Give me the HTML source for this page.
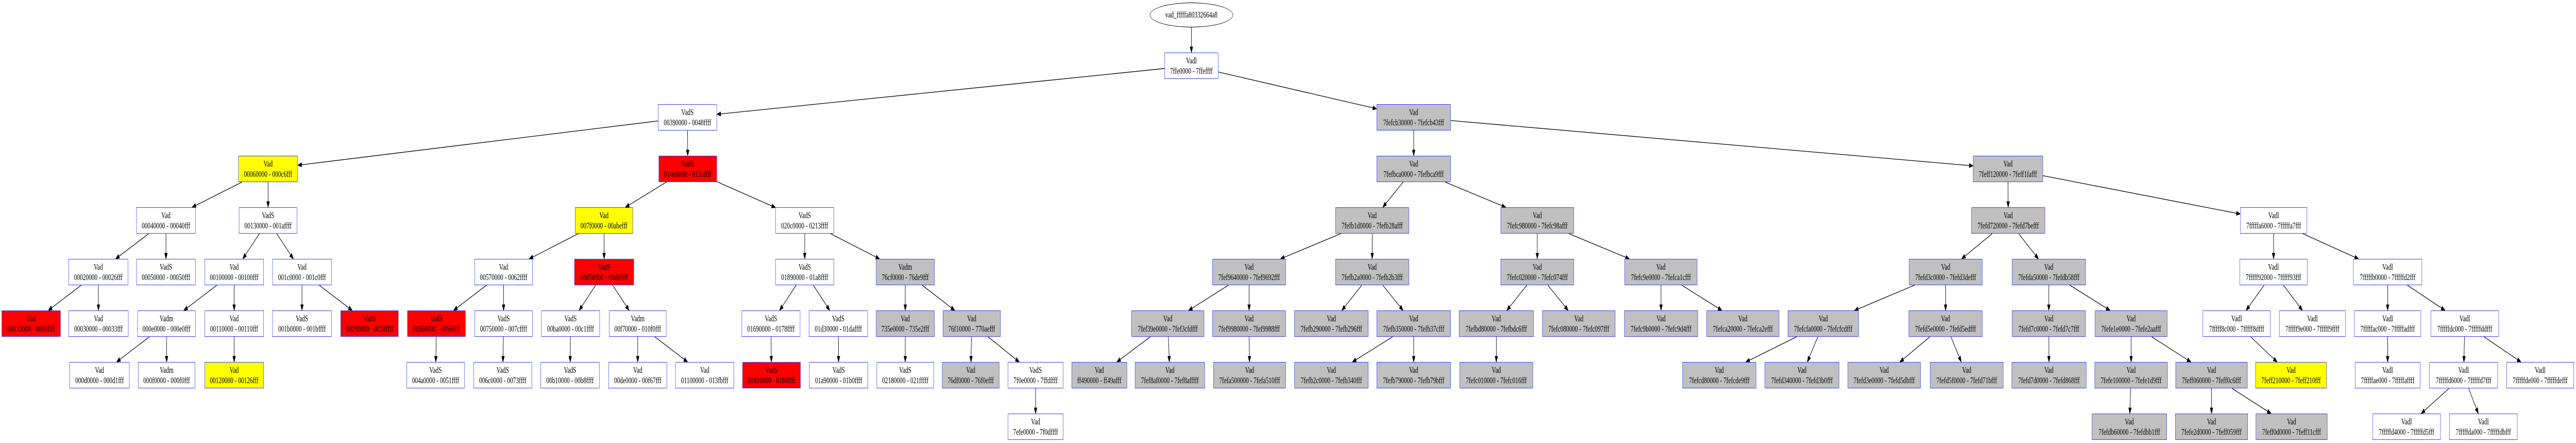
<!DOCTYPE html>
<html><head><meta charset="utf-8">
<style>
html,body{margin:0;padding:0;background:#fff;width:100vw;height:100vh;overflow:hidden;}
#wrap{position:absolute;left:0;top:0;width:7481px;height:859px;transform-origin:0 0;font-family:"Liberation Serif",serif;background:#fff;}
.n{position:absolute;height:51px;box-sizing:border-box;border:1.5px solid #3a3aff;text-align:center;font-size:17px;line-height:20px;padding-top:5px;color:#000;white-space:nowrap;z-index:2;overflow:hidden;}
.w{background:#fff}.g{background:#c0c0c0}.r{background:#ff0000}.y{background:#ffff00}
.e{position:absolute;left:3339px;top:5px;width:242px;height:48px;border:1.3px solid #000;border-radius:50%;box-sizing:border-box;text-align:center;font-size:17px;line-height:46px;z-index:2;background:#fff;overflow:hidden}
svg{position:absolute;left:0;top:0;z-index:1}
</style></head><body>
<div id="wrap">
<svg id="s" width="7481" height="859"></svg>
<div class="e" id="n0">vad_fffffa80332664a8</div>
<div class="n w" id="n1" style="left:3382px;top:102px;width:156px">Vadl<br>7ffe0000 - 7ffeffff</div>
<div class="n w" id="n2" style="left:1911px;top:202px;width:171px">VadS<br>00390000 - 0048ffff</div>
<div class="n g" id="n3" style="left:3998px;top:202px;width:215px">Vad<br>7fefcb30000 - 7fefcb43fff</div>
<div class="n y" id="n4" style="left:692px;top:302px;width:173px">Vad<br>00060000 - 000c6fff</div>
<div class="n r" id="n5" style="left:1913px;top:302px;width:169px">VadS<br>014e0000 - 0155ffff</div>
<div class="n g" id="n6" style="left:3998px;top:302px;width:215px">Vad<br>7fefbca0000 - 7fefbca9fff</div>
<div class="n g" id="n7" style="left:5730px;top:302px;width:203px">Vad<br>7feff120000 - 7feff1fafff</div>
<div class="n w" id="n8" style="left:396px;top:402px;width:172px">Vad<br>00040000 - 00040fff</div>
<div class="n w" id="n9" style="left:694px;top:402px;width:169px">VadS<br>00130000 - 001affff</div>
<div class="n y" id="n10" style="left:1670px;top:402px;width:168px">Vad<br>007f0000 - 00abefff</div>
<div class="n w" id="n11" style="left:2252px;top:402px;width:170px">VadS<br>020c0000 - 0213ffff</div>
<div class="n g" id="n12" style="left:3878px;top:402px;width:214px">Vad<br>7fefb1d0000 - 7fefb28afff</div>
<div class="n g" id="n13" style="left:4358px;top:402px;width:213px">Vad<br>7fefc980000 - 7fefc98afff</div>
<div class="n g" id="n14" style="left:5725px;top:402px;width:214px">Vad<br>7fefd720000 - 7fefd7befff</div>
<div class="n w" id="n15" style="left:6506px;top:402px;width:194px">Vadl<br>7fffffa6000 - 7fffffa7fff</div>
<div class="n w" id="n16" style="left:199px;top:502px;width:173px">Vad<br>00020000 - 00026fff</div>
<div class="n w" id="n17" style="left:396px;top:502px;width:172px">VadS<br>00050000 - 00050fff</div>
<div class="n w" id="n18" style="left:594px;top:502px;width:172px">Vad<br>00100000 - 00100fff</div>
<div class="n w" id="n19" style="left:791px;top:502px;width:172px">Vad<br>001c0000 - 001c0fff</div>
<div class="n w" id="n20" style="left:1378px;top:502px;width:169px">Vad<br>00570000 - 0062ffff</div>
<div class="n r" id="n21" style="left:1668px;top:502px;width:173px">VadS<br>00d50000 - 00ddffff</div>
<div class="n w" id="n22" style="left:2252px;top:502px;width:170px">VadS<br>01890000 - 01a8ffff</div>
<div class="n g" id="n23" style="left:2544px;top:502px;width:170px">Vadm<br>76cf0000 - 76de9fff</div>
<div class="n g" id="n24" style="left:3521px;top:502px;width:213px">Vad<br>7fef9640000 - 7fef9692fff</div>
<div class="n g" id="n25" style="left:3878px;top:502px;width:214px">Vad<br>7fefb2a0000 - 7fefb2b3fff</div>
<div class="n g" id="n26" style="left:4358px;top:502px;width:213px">Vad<br>7fefc020000 - 7fefc074fff</div>
<div class="n g" id="n27" style="left:4718px;top:502px;width:211px">Vad<br>7fefc9e0000 - 7fefca1cfff</div>
<div class="n g" id="n28" style="left:5544px;top:502px;width:213px">Vad<br>7fefd3c0000 - 7fefd3defff</div>
<div class="n g" id="n29" style="left:5843px;top:502px;width:214px">Vad<br>7fefda50000 - 7fefdb58fff</div>
<div class="n w" id="n30" style="left:6504px;top:502px;width:197px">Vadl<br>7fffff92000 - 7fffff93fff</div>
<div class="n w" id="n31" style="left:6834px;top:502px;width:200px">Vadl<br>7fffffb0000 - 7fffffd2fff</div>
<div class="n r" id="n32" style="left:5px;top:602px;width:171px">Vad<br>00010000 - 0001ffff</div>
<div class="n w" id="n33" style="left:199px;top:602px;width:174px">Vad<br>00030000 - 00033fff</div>
<div class="n w" id="n34" style="left:399px;top:602px;width:169px">Vadm<br>000e0000 - 000e0fff</div>
<div class="n w" id="n35" style="left:594px;top:602px;width:172px">Vad<br>00110000 - 00110fff</div>
<div class="n w" id="n36" style="left:791px;top:602px;width:172px">VadS<br>001b0000 - 001bffff</div>
<div class="n r" id="n37" style="left:989px;top:602px;width:168px">VadS<br>00290000 - 0038ffff</div>
<div class="n r" id="n38" style="left:1183px;top:602px;width:169px">VadS<br>00560000 - 0056ffff</div>
<div class="n w" id="n39" style="left:1378px;top:602px;width:169px">VadS<br>00750000 - 007cffff</div>
<div class="n w" id="n40" style="left:1572px;top:602px;width:170px">VadS<br>00ba0000 - 00c1ffff</div>
<div class="n w" id="n41" style="left:1769px;top:602px;width:166px">Vadm<br>00f70000 - 010f0fff</div>
<div class="n w" id="n42" style="left:2154px;top:602px;width:170px">VadS<br>01690000 - 0178ffff</div>
<div class="n w" id="n43" style="left:2349px;top:602px;width:171px">VadS<br>01d30000 - 01daffff</div>
<div class="n g" id="n44" style="left:2544px;top:602px;width:170px">Vad<br>735e0000 - 735e2fff</div>
<div class="n g" id="n45" style="left:2738px;top:602px;width:168px">Vad<br>76f10000 - 770aefff</div>
<div class="n g" id="n46" style="left:3286px;top:602px;width:211px">Vad<br>7fef39e0000 - 7fef3cfdfff</div>
<div class="n g" id="n47" style="left:3521px;top:602px;width:213px">Vad<br>7fef9980000 - 7fef9988fff</div>
<div class="n g" id="n48" style="left:3759px;top:602px;width:215px">Vad<br>7fefb290000 - 7fefb296fff</div>
<div class="n g" id="n49" style="left:3998px;top:602px;width:215px">Vad<br>7fefb350000 - 7fefb37cfff</div>
<div class="n g" id="n50" style="left:4237px;top:602px;width:217px">Vad<br>7fefbd80000 - 7fefbdc6fff</div>
<div class="n g" id="n51" style="left:4479px;top:602px;width:212px">Vad<br>7fefc080000 - 7fefc097fff</div>
<div class="n g" id="n52" style="left:4717px;top:602px;width:214px">Vad<br>7fefc9b0000 - 7fefc9d4fff</div>
<div class="n g" id="n53" style="left:4956px;top:602px;width:211px">Vad<br>7fefca20000 - 7fefca2efff</div>
<div class="n g" id="n54" style="left:5192px;top:602px;width:206px">Vad<br>7fefcfa0000 - 7fefcfcdfff</div>
<div class="n g" id="n55" style="left:5543px;top:602px;width:214px">Vad<br>7fefd5e0000 - 7fefd5edfff</div>
<div class="n g" id="n56" style="left:5843px;top:602px;width:214px">Vad<br>7fefd7c0000 - 7fefd7c7fff</div>
<div class="n g" id="n57" style="left:6084px;top:602px;width:210px">Vad<br>7fefe1e0000 - 7fefe2aafff</div>
<div class="n w" id="n58" style="left:6397px;top:602px;width:197px">Vadl<br>7fffff8c000 - 7fffff8dfff</div>
<div class="n w" id="n59" style="left:6619px;top:602px;width:193px">Vadl<br>7fffff9e000 - 7fffff9ffff</div>
<div class="n w" id="n60" style="left:6837px;top:602px;width:194px">Vadl<br>7fffffac000 - 7fffffadfff</div>
<div class="n w" id="n61" style="left:7059px;top:602px;width:198px">Vadl<br>7fffffdc000 - 7fffffddfff</div>
<div class="n w" id="n62" style="left:202px;top:702px;width:174px">Vad<br>000d0000 - 000d1fff</div>
<div class="n w" id="n63" style="left:401px;top:702px;width:166px">Vadm<br>000f0000 - 000f0fff</div>
<div class="n y" id="n64" style="left:594px;top:702px;width:172px">Vad<br>00120000 - 00126fff</div>
<div class="n w" id="n65" style="left:1181px;top:702px;width:168px">VadS<br>004a0000 - 0051ffff</div>
<div class="n w" id="n66" style="left:1375px;top:702px;width:170px">VadS<br>006c0000 - 0073ffff</div>
<div class="n w" id="n67" style="left:1570px;top:702px;width:171px">VadS<br>00b10000 - 00b8ffff</div>
<div class="n w" id="n68" style="left:1767px;top:702px;width:170px">Vad<br>00de0000 - 00f67fff</div>
<div class="n w" id="n69" style="left:1961px;top:702px;width:171px">Vad<br>01100000 - 013fbfff</div>
<div class="n r" id="n70" style="left:2156px;top:702px;width:169px">VadS<br>01810000 - 0188ffff</div>
<div class="n w" id="n71" style="left:2350px;top:702px;width:171px">VadS<br>01a90000 - 01b0ffff</div>
<div class="n w" id="n72" style="left:2546px;top:702px;width:166px">VadS<br>02180000 - 021fffff</div>
<div class="n g" id="n73" style="left:2736px;top:702px;width:166px">Vad<br>76df0000 - 76f0efff</div>
<div class="n w" id="n74" style="left:2927px;top:702px;width:161px">VadS<br>7f0e0000 - 7ffdffff</div>
<div class="n g" id="n75" style="left:3112px;top:702px;width:161px">Vad<br>ff490000 - ff49afff</div>
<div class="n g" id="n76" style="left:3296px;top:702px;width:203px">Vad<br>7fef8af0000 - 7fef8afffff</div>
<div class="n g" id="n77" style="left:3524px;top:702px;width:210px">Vad<br>7fefa500000 - 7fefa510fff</div>
<div class="n g" id="n78" style="left:3759px;top:702px;width:215px">Vad<br>7fefb2c0000 - 7fefb340fff</div>
<div class="n g" id="n79" style="left:3998px;top:702px;width:215px">Vad<br>7fefb790000 - 7fefb79bfff</div>
<div class="n g" id="n80" style="left:4239px;top:702px;width:213px">Vad<br>7fefc010000 - 7fefc016fff</div>
<div class="n g" id="n81" style="left:4886px;top:702px;width:214px">Vad<br>7fefcd80000 - 7fefcde9fff</div>
<div class="n g" id="n82" style="left:5125px;top:702px;width:216px">Vad<br>7fefd340000 - 7fefd3b0fff</div>
<div class="n g" id="n83" style="left:5366px;top:702px;width:212px">Vad<br>7fefd3e0000 - 7fefd5dbfff</div>
<div class="n g" id="n84" style="left:5605px;top:702px;width:213px">Vad<br>7fefd5f0000 - 7fefd71bfff</div>
<div class="n g" id="n85" style="left:5842px;top:702px;width:217px">Vad<br>7fefd7d0000 - 7fefd868fff</div>
<div class="n g" id="n86" style="left:6083px;top:702px;width:212px">Vad<br>7fefe100000 - 7fefe1d9fff</div>
<div class="n g" id="n87" style="left:6318px;top:702px;width:209px">Vad<br>7feff060000 - 7feff0c6fff</div>
<div class="n y" id="n88" style="left:6550px;top:702px;width:207px">Vad<br>7feff210000 - 7feff210fff</div>
<div class="n w" id="n89" style="left:6839px;top:702px;width:190px">Vadl<br>7fffffae000 - 7fffffaffff</div>
<div class="n w" id="n90" style="left:7055px;top:702px;width:199px">Vadl<br>7fffffd6000 - 7fffffd7fff</div>
<div class="n w" id="n91" style="left:7279px;top:702px;width:196px">Vadl<br>7fffffde000 - 7fffffdefff</div>
<div class="n w" id="n92" style="left:2927px;top:802px;width:161px">Vad<br>7efe0000 - 7f0dffff</div>
<div class="n g" id="n93" style="left:6075px;top:802px;width:218px">Vad<br>7fefdb60000 - 7fefdbb1fff</div>
<div class="n g" id="n94" style="left:6317px;top:802px;width:211px">Vad<br>7fefe2d0000 - 7feff059fff</div>
<div class="n g" id="n95" style="left:6551px;top:802px;width:208px">Vad<br>7feff0d0000 - 7feff11cfff</div>
<div class="n w" id="n96" style="left:6890px;top:802px;width:198px">Vadl<br>7fffffd4000 - 7fffffd5fff</div>
<div class="n w" id="n97" style="left:7113px;top:802px;width:198px">Vadl<br>7fffffda000 - 7fffffdbfff</div>
</div>
<script>
(function(){
var E=[[0,1],[1,2],[1,3],[2,4],[2,5],[3,6],[3,7],[4,8],[4,9],[5,10],[5,11],[6,12],[6,13],[7,14],[7,15],
[8,16],[8,17],[9,18],[9,19],[10,20],[10,21],[11,22],[11,23],[12,24],[12,25],[13,26],[13,27],[14,28],[14,29],[15,30],[15,31],
[16,32],[16,33],[18,34],[18,35],[19,36],[19,37],[20,38],[20,39],[21,40],[21,41],[22,42],[22,43],[23,44],[23,45],[24,46],[24,47],[25,48],[25,49],[26,50],[26,51],[27,52],[27,53],[28,54],[28,55],[29,56],[29,57],[30,58],[30,59],[31,60],[31,61],
[34,62],[34,63],[35,64],[38,65],[39,66],[40,67],[41,68],[41,69],[42,70],[43,71],[44,72],[45,73],[45,74],[46,75],[46,76],[47,77],[49,78],[49,79],[50,80],[54,81],[54,82],[55,83],[55,84],[56,85],[57,86],[57,87],[58,88],[60,89],[61,90],[61,91],
[74,92],[86,93],[87,94],[87,95],[90,96],[90,97]];
function box(i){var el=document.getElementById('n'+i);return {x:el.offsetLeft,y:el.offsetTop,w:el.offsetWidth,h:el.offsetHeight};}
function clip(b,cx,cy,dx,dy){
 var hw=b.w/2,hh=b.h/2,t=1e9;
 if(dx!==0)t=Math.min(t,hw/Math.abs(dx));
 if(dy!==0)t=Math.min(t,hh/Math.abs(dy));
 return [cx+dx*t,cy+dy*t];}
var s='';
for(var k=0;k<E.length;k++){
 var a=box(E[k][0]),b=box(E[k][1]);
 var ax=a.x+a.w/2,ay=a.y+a.h/2,bx=b.x+b.w/2,by=b.y+b.h/2;
 var dx=bx-ax,dy=by-ay;
 var p;
 if(E[k][0]===0){p=[ax,a.y+a.h];}else{p=clip(a,ax,ay,dx,dy);}
 var q=clip(b,bx,by,-dx,-dy);
 var L=Math.sqrt((q[0]-p[0])*(q[0]-p[0])+(q[1]-p[1])*(q[1]-p[1]));
 var ux=(q[0]-p[0])/L,uy=(q[1]-p[1])/L;
 var al=11,aw=4;
 var mx=q[0]-ux*al,my=q[1]-uy*al;
 s+='<line x1="'+p[0]+'" y1="'+p[1]+'" x2="'+mx+'" y2="'+my+'" stroke="#000" stroke-width="1.3"/>';
 s+='<polygon points="'+q[0]+','+q[1]+' '+(mx-uy*aw)+','+(my+ux*aw)+' '+(mx+uy*aw)+','+(my-ux*aw)+'" fill="#000" stroke="#000" stroke-width="1"/>';
}
document.getElementById('s').innerHTML=s;
function fit(){
 var W=window.innerWidth||document.documentElement.clientWidth||7481;
 var H=window.innerHeight||document.documentElement.clientHeight||859;
 document.getElementById('wrap').style.transform='scale('+(W/7481)+','+(H/859)+')';
}
fit();
window.addEventListener('resize',fit);
})();
</script>
</body></html>
